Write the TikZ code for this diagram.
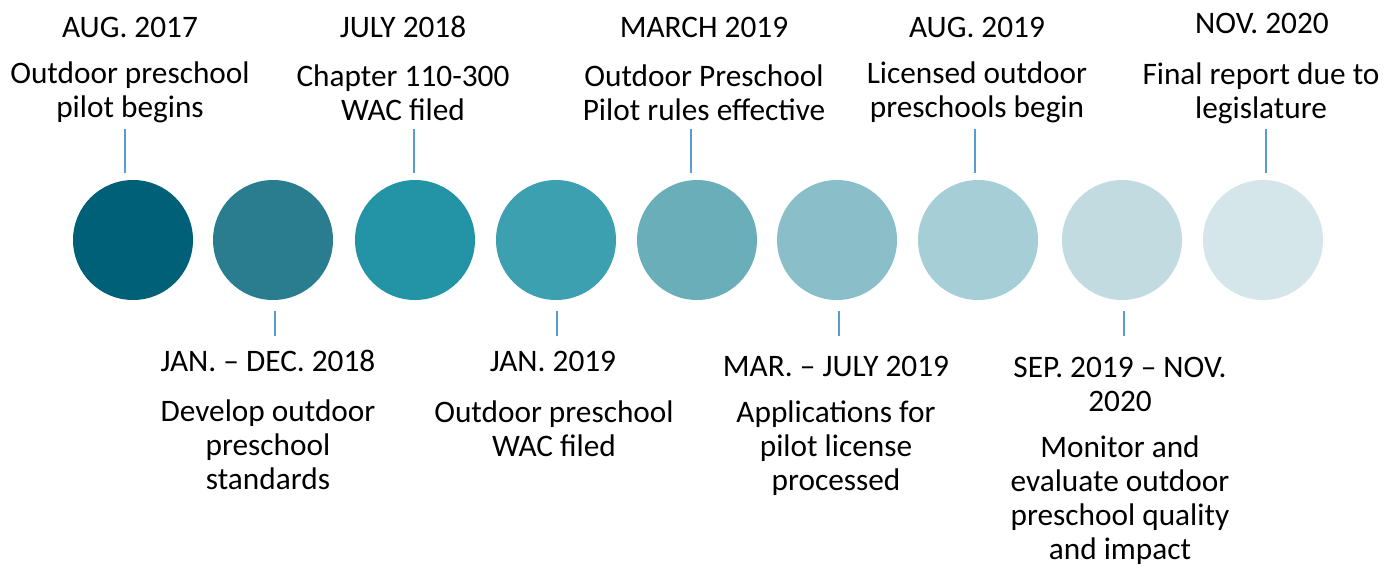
\documentclass[tikz,border=0pt]{standalone}
\usepackage{fontspec}
\setmainfont{Carlito}
\definecolor{c1}{HTML}{006078}
\definecolor{c2}{HTML}{2A7D8F}
\definecolor{c3}{HTML}{2394A5}
\definecolor{c4}{HTML}{3DA0B0}
\definecolor{c5}{HTML}{6AAEBA}
\definecolor{c6}{HTML}{8ABFCA}
\definecolor{c7}{HTML}{A6CED6}
\definecolor{c8}{HTML}{C2DBE1}
\definecolor{c9}{HTML}{D4E6EA}
\definecolor{tickcol}{HTML}{5B9BD5}
\tikzset{
  dot/.style={circle, minimum size=120pt, inner sep=0pt, draw=none},
  lbl/.style={align=center, inner sep=0pt, font=\fontsize{31.3}{34}\selectfont, text=black},
  tick/.style={draw=tickcol, line width=1.4pt}
}
\begin{document}
\begin{tikzpicture}[x=1pt,y=-1pt]
\useasboundingbox (0,0) rectangle (1384,566);
% circles
\node[dot, fill=c1] (k1) at (133,240) {};
\node[dot, fill=c2] (k2) at (273,240) {};
\node[dot, fill=c3] (k3) at (415,240) {};
\node[dot, fill=c4] (k4) at (556,240) {};
\node[dot, fill=c5] (k5) at (697,240) {};
\node[dot, fill=c6] (k6) at (837,240) {};
\node[dot, fill=c7] (k7) at (978,240) {};
\node[dot, fill=c8] (k8) at (1122,240) {};
\node[dot, fill=c9] (k9) at (1263,240) {};
% top labels
\node[lbl] (d1) at (130,27) {AUG. 2017};
\node[lbl] (e1) at (130,92.5) {Outdoor preschool\\pilot begins};
\node[lbl] (d3) at (403,27) {JULY 2018};
\node[lbl] (e3) at (403,92.5) {Chapter 110-300\\WAC filed};
\node[lbl] (d5) at (704,27) {MARCH 2019};
\node[lbl] (e5) at (704,92.5) {Outdoor Preschool\\Pilot rules effective};
\node[lbl] (d7) at (977,27) {AUG. 2019};
\node[lbl] (e7) at (977,92.5) {Licensed outdoor\\preschools begin};
\node[lbl] (d9) at (1262,23) {NOV. 2020};
\node[lbl] (e9) at (1261,93.5) {Final report due to\\legislature};
% bottom labels
\node[lbl] (d2) at (268,361) {JAN. -- DEC. 2018};
\node[lbl] (e2) at (268,445) {Develop outdoor\\preschool\\standards};
\node[lbl] (d4) at (553,361) {JAN. 2019};
\node[lbl] (e4) at (554,428.5) {Outdoor preschool\\WAC filed};
\node[lbl] (d6) at (836,366) {MAR. -- JULY 2019};
\node[lbl] (e6) at (836,448) {Applications for\\pilot license\\processed};
\node[lbl] (d8) at (1120,384.5) {SEP. 2019 -- NOV.\\2020};
\node[lbl] (e8) at (1120,500) {Monitor and\\evaluate outdoor\\preschool quality\\and impact};
% ticks
\coordinate (t1a) at (125,129); \coordinate (t1b) at (125,173);
\coordinate (t3a) at (414,129); \coordinate (t3b) at (414,173);
\coordinate (t5a) at (691,129); \coordinate (t5b) at (691,173);
\coordinate (t7a) at (975,129); \coordinate (t7b) at (975,173);
\coordinate (t9a) at (1266,129); \coordinate (t9b) at (1266,173);
\coordinate (t2a) at (275,311); \coordinate (t2b) at (275,336);
\coordinate (t4a) at (557,311); \coordinate (t4b) at (557,336);
\coordinate (t6a) at (839,311); \coordinate (t6b) at (839,336);
\coordinate (t8a) at (1124,311); \coordinate (t8b) at (1124,336);
\foreach \i in {1,...,9} \draw[tick] (t\i a) -- (t\i b);
\end{tikzpicture}
\end{document}
